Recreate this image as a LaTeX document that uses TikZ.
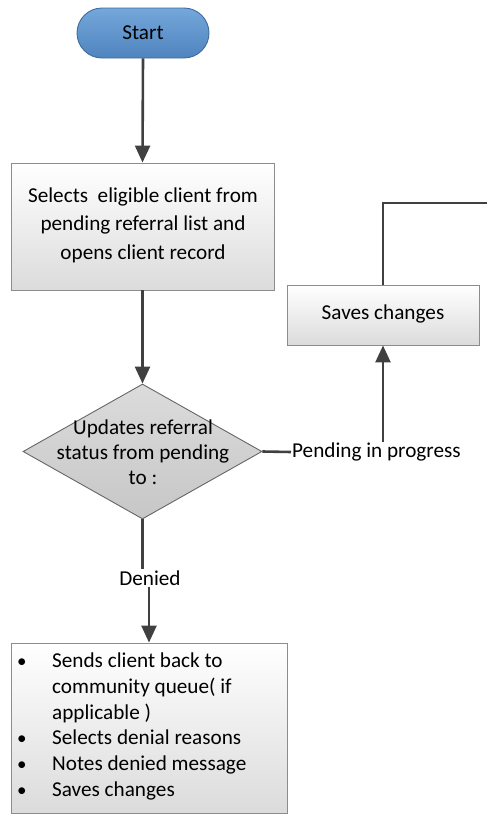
\documentclass[tikz,border=0pt]{standalone}
\usepackage{fontspec}
\setmainfont{Carlito}
\usetikzlibrary{shapes.geometric,arrows.meta,calc}
\definecolor{lineclr}{HTML}{404040}
\definecolor{boxedge}{HTML}{8C8C8C}
\definecolor{startTop}{HTML}{74A7DA}
\definecolor{startBot}{HTML}{4F84BF}
\definecolor{startEdge}{HTML}{3F6C9C}
\newcommand{\itemdot}{{\fontsize{19}{19}\selectfont\textbullet}}
\tikzset{
  flow/.style={line width=2.6pt, draw=lineclr},
  arr/.style={flow, -{Triangle[length=17pt,width=15pt]}},
  txt/.style={font=\fontsize{21.2}{28.5}\selectfont, align=center},
  procbox/.style={draw=boxedge, line width=0.9pt, top color=white, bottom color=black!14, inner sep=0pt},
  terminal/.style={draw=startEdge, line width=0.9pt, rounded corners=25pt, top color=startTop, bottom color=startBot, minimum width=132pt, minimum height=50pt, inner sep=0pt},
  decision/.style={diamond, draw=black!60, line width=0.9pt, top color=black!14, bottom color=black!22, aspect=1.77, inner sep=0pt, minimum width=239pt, minimum height=135pt},
}
\begin{document}
\begin{tikzpicture}[x=1pt,y=-1pt]
\useasboundingbox (0,0) rectangle (487,825);

% start terminal
\node[terminal, txt] (start) at (143,33) {Start};

% first process step
\node[procbox, minimum width=263pt, minimum height=127pt] (sel) at (142.5,226.5) {};
\node[txt] (seltxt) at (143,225) {Selects\ \ eligible client from\\pending referral list and\\opens client record};

% decision
\node[decision] (dec) at (142.5,451.5) {};
\node[txt, font=\fontsize{21.2}{25}\selectfont] (dectxt) at (143,452) {Updates referral\\status from pending\\to :};

% saves changes box
\node[procbox, minimum width=192pt, minimum height=60pt] (save) at (383,315) {};
\node[txt] (savetxt) at (383,314) {Saves changes};

% branch labels
\node[txt, inner sep=1pt, anchor=west] (pend) at (291,452) {Pending in progress};
\node[txt, inner sep=1pt] (denied) at (150,578) {Denied};

% denied box
\node[procbox, minimum width=276pt, minimum height=170pt] (deny) at (149,728) {};
\node[anchor=north west, inner sep=0pt, font=\fontsize{21.2}{25.7}\selectfont] (denytxt) at (17,649.5) {%
\begin{tabular}{@{}p{35pt}@{}l@{}}
\itemdot & Sends client back to\\
 & community queue( if\\
 & applicable )\\
\itemdot & Selects denial reasons\\
\itemdot & Notes denied message\\
\itemdot & Saves changes
\end{tabular}};

% exit point at the right edge
\coordinate (exitpt) at (487,203);

% connectors
\draw[arr] (start.south) -- (sel.north);
\draw[arr] (sel.south) -- (dec.north);
\draw[flow] (dec.east) -- (pend.west);
\draw[arr] (pend.north -| save.south) -- (save.south);
\draw[flow] (save.north) |- (exitpt);
\draw[flow] (dec.south) -- (dec.south |- denied.north);
\draw[arr] (denied.south -| deny.north) -- (deny.north);
\end{tikzpicture}
\end{document}
